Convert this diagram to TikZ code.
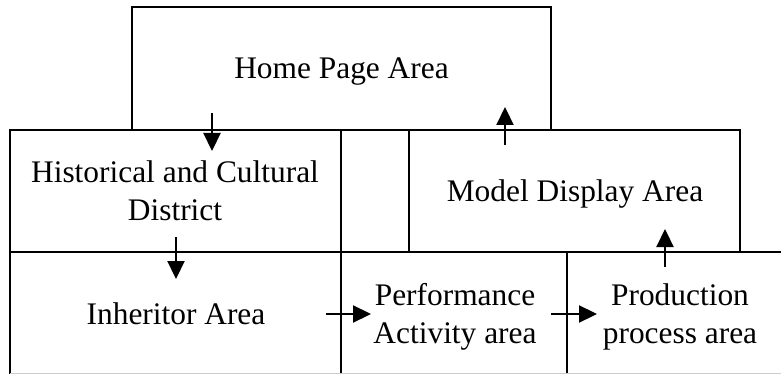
\documentclass[tikz,border=0pt]{standalone}
\usepackage{fontspec}
\setmainfont{Liberation Serif}
\usetikzlibrary{arrows.meta}
\newcommand\lab{\fontsize{31.4}{38}\selectfont}
\begin{document}
\begin{tikzpicture}[x=1pt,y=-1pt,line width=2.2pt,
  box/.style={draw,rectangle,inner sep=0pt},
  lbl/.style={inner sep=0pt,align=center,font=\lab},
  arr/.style={-{Triangle[length=18pt,width=17pt]}}]
\useasboundingbox (0,0) rectangle (781,374);
% boxes
\node[box,minimum width=419pt,minimum height=123pt] (homebox) at (341.5,68.5) {};
\node[box,minimum width=331pt,minimum height=122pt] (histbox) at (175.5,191) {};
\node[box,minimum width=331pt,minimum height=122pt] (modelbox) at (574.5,191) {};
% bottom row lines
\coordinate (bl) at (10,252);
\coordinate (br) at (781,252);
\coordinate (blb) at (10,374);
\coordinate (m1) at (341,252);
\coordinate (m1b) at (341,374);
\coordinate (m2) at (567,252);
\coordinate (m2b) at (567,374);
\draw (bl) -- (br);
\draw (bl) -- (blb);
\draw (m1) -- (m1b);
\draw (m2) -- (m2b);
\coordinate (g1) at (10,373.5);
\coordinate (g2) at (781,373.5);
\draw[line width=1pt,black!20] (g1) -- (g2);
% labels
\node[lbl] (home) at (341.5,71.3) {Home Page Area};
\node[lbl] (hist) at (175,190.5) {Historical and Cultural\\District};
\node[lbl] (model) at (575,193.5) {Model Display Area};
\node[lbl] (inher) at (176,313.3) {Inheritor Area};
\node[lbl] (perf) at (455,316.7) {Performance\\Activity area};
\node[lbl] (prod) at (680,316.7) {Production\\process area};
% arrows
\coordinate (a1s) at (212,113); \coordinate (a1e) at (212,151);
\coordinate (a2s) at (505,145); \coordinate (a2e) at (505,107);
\coordinate (a3s) at (176,237); \coordinate (a3e) at (176,279);
\coordinate (a4s) at (326,314); \coordinate (a4e) at (371,314);
\coordinate (a5s) at (551,314); \coordinate (a5e) at (597,314);
\coordinate (a6s) at (665,267); \coordinate (a6e) at (665,229);
\draw[arr] (a1s) -- (a1e);
\draw[arr] (a2s) -- (a2e);
\draw[arr] (a3s) -- (a3e);
\draw[arr] (a4s) -- (a4e);
\draw[arr] (a5s) -- (a5e);
\draw[arr] (a6s) -- (a6e);
\end{tikzpicture}
\end{document}
